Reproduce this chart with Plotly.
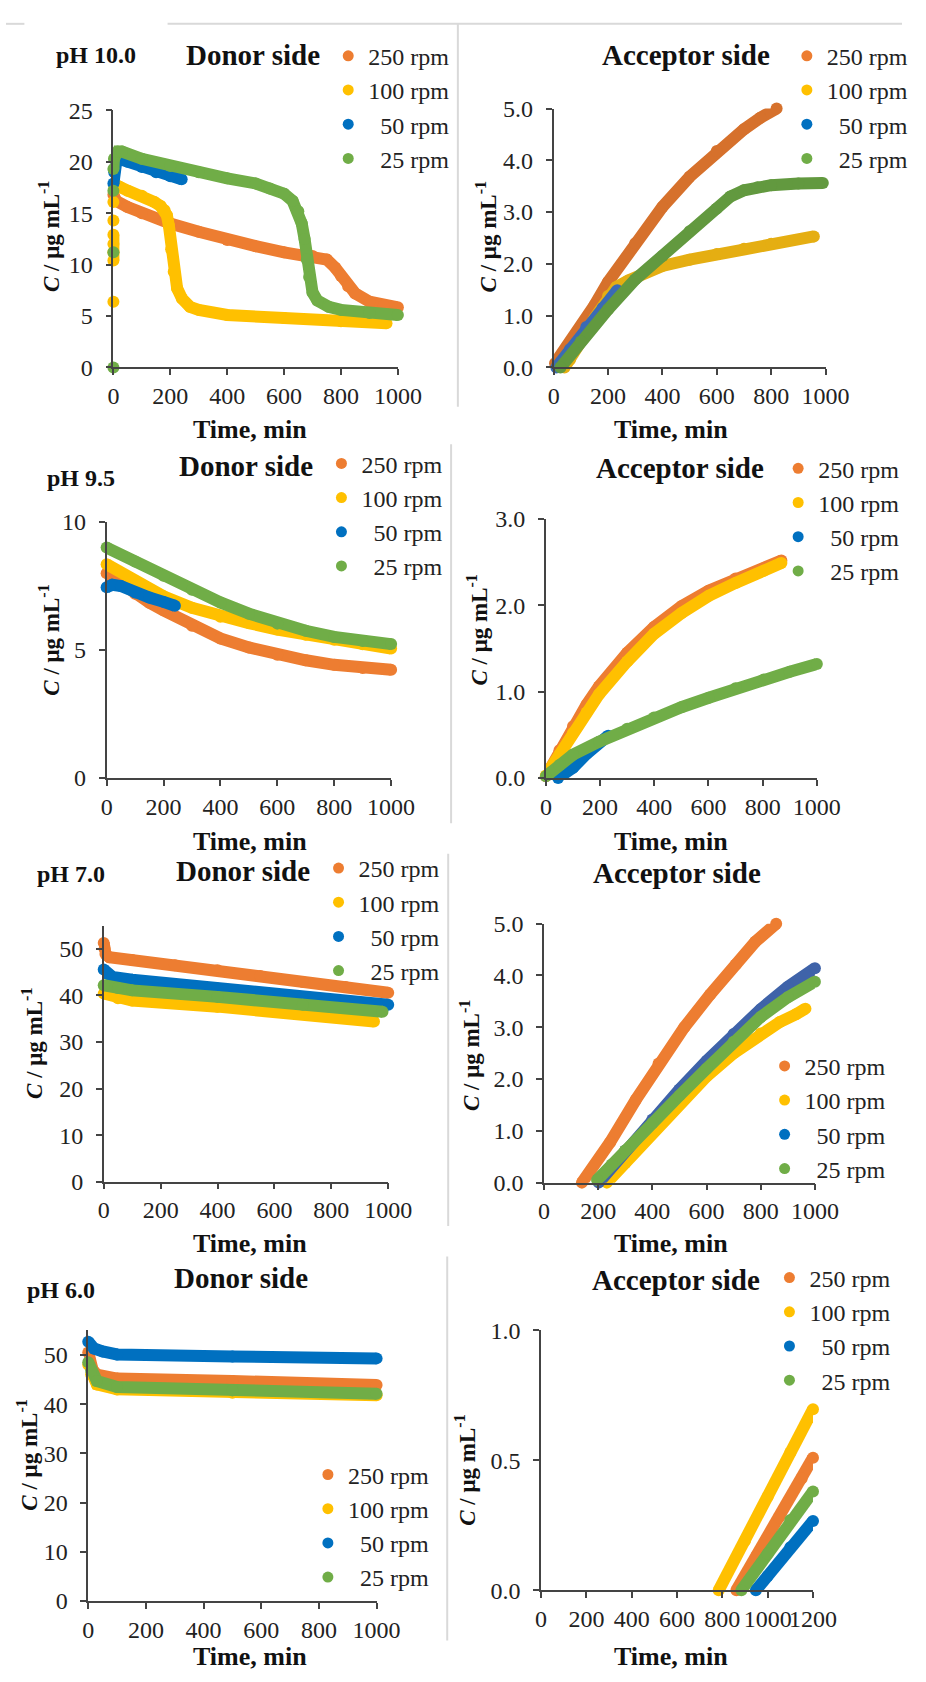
import plotly.graph_objects as go

W, H = 926, 1682
FONT = "Liberation Serif, Times New Roman, Times, serif"
COLORS = ["#ED7D31", "#FFC000", "#0070C0", "#70AD47"]
# slightly different tones seen in some panels of the original composite
PANEL_COLORS = {1: ["#D6712C", "#E5AE12", "#3A6AB5", "#62993F"],
                5: ["#ED7D31", "#FFC000", "#3F63A9", "#70AD47"]}
LEGEND_NAMES = ["250 rpm", "100 rpm", "\u00a0\u00a050 rpm", "\u00a0\u00a025 rpm"]

# ---------------- pH 10.0 donor ----------------
t10d_250 = [0, 10, 50, 100, 200, 300, 400, 500, 600, 700, 750, 780, 800, 825, 850, 900, 950, 1000]
c10d_250 = [16.8, 16.2, 15.6, 15.0, 14.0, 13.2, 12.4, 11.8, 11.2, 10.85, 10.5, 9.7, 8.9, 7.9, 7.2, 6.4, 6.0, 5.85]
t10d_100 = [0, None, 0, 0, 0, 0, None, 0, None, 0, None, 3, 20, 50, 100, 144, 166, 180, 188, 195, 203, 212, 224, 241, 269, 300, 400, 600, 800, 960]
c10d_100 = [6.4, None, 10.4, 11.2, 12.0, 12.9, None, 14.3, None, 16.1, None, 17.4, 17.6, 17.2, 16.7, 16.1, 15.7, 15.3, 14.8, 13.8, 11.5, 9.3, 7.7, 6.7, 5.9, 5.6, 5.1, 4.8, 4.5, 4.3]
t10d_50 = [0, 3, 10, 20, 50, 100, 150, 200, 240]
c10d_50 = [17.9, 19.0, 20.0, 20.3, 20.0, 19.5, 19.0, 18.6, 18.3]
t10d_25 = [0, None, 0, None, 0, None, 0, 2, 15, 30, 100, 200, 300, 400, 500, 550, 600, 630, 650, 662, 672, 680, 688, 700, 717, 757, 800, 900, 1000]
c10d_25 = [0.0, None, 11.2, None, 17.2, None, 19.3, 20.3, 21.0, 21.0, 20.3, 19.6, 19.0, 18.4, 17.9, 17.4, 16.9, 16.2, 15.2, 14.0, 12.5, 10.5, 8.8, 7.3, 6.5, 5.9, 5.6, 5.3, 5.1]

# ---------------- pH 10.0 acceptor ----------------
t10a_250 = [5, 50, 97, 150, 200, 300, 400, 500, 600, 700, 760, 820]
c10a_250 = [0.08, 0.4, 0.76, 1.2, 1.65, 2.4, 3.1, 3.68, 4.18, 4.6, 4.82, 5.0]
t10a_100 = [40, 60, 100, 150, 200, 230, 275, 400, 500, 600, 700, 800, 957]
c10a_100 = [0.0, 0.15, 0.5, 0.95, 1.38, 1.55, 1.68, 1.96, 2.08, 2.19, 2.29, 2.39, 2.53]
t10a_50 = [10, 60, 120, 180, 234]
c10a_50 = [0.0, 0.35, 0.78, 1.15, 1.49]
t10a_25 = [25, 100, 200, 300, 400, 500, 600, 650, 700, 750, 800, 900, 990]
c10a_25 = [0.0, 0.5, 1.12, 1.7, 2.15, 2.63, 3.07, 3.3, 3.42, 3.48, 3.52, 3.55, 3.56]

# ---------------- pH 9.5 donor ----------------
t95d_250 = [0, 50, 100, 150, 200, 300, 400, 500, 600, 700, 800, 900, 1000]
c95d_250 = [8.0, 7.6, 7.2, 6.85, 6.55, 5.95, 5.45, 5.1, 4.81, 4.6, 4.42, 4.3, 4.23]
t95d_100 = [0, 100, 200, 300, 400, 500, 600, 700, 800, 900, 1000]
c95d_100 = [8.35, 7.7, 7.1, 6.65, 6.3, 6.05, 5.8, 5.6, 5.4, 5.22, 5.06]
t95d_50 = [0, 20, 50, 100, 150, 200, 240]
c95d_50 = [7.45, 7.55, 7.5, 7.25, 7.05, 6.88, 6.73]
t95d_25 = [0, 100, 200, 300, 400, 500, 600, 700, 800, 900, 1000]
c95d_25 = [9.0, 8.46, 7.9, 7.35, 6.86, 6.42, 6.03, 5.75, 5.51, 5.35, 5.23]

# ---------------- pH 9.5 acceptor ----------------
t95a_250 = [0, 50, 100, 150, 196, 300, 399, 500, 601, 700, 804, 869]
c95a_250 = [0.02, 0.32, 0.6, 0.85, 1.06, 1.45, 1.75, 1.99, 2.17, 2.31, 2.43, 2.52]
t95a_100 = [0, 50, 100, 150, 196, 300, 399, 500, 601, 700, 804, 869]
c95a_100 = [0.03, 0.27, 0.52, 0.76, 0.97, 1.35, 1.67, 1.91, 2.11, 2.26, 2.40, 2.49]
t95a_50 = [45, 100, 150, 200, 230]
c95a_50 = [0.0, 0.12, 0.28, 0.42, 0.49]
t95a_25 = [0, 50, 100, 196, 300, 399, 500, 601, 700, 804, 900, 1000]
c95a_25 = [0.02, 0.15, 0.27, 0.42, 0.57, 0.70, 0.82, 0.93, 1.04, 1.14, 1.23, 1.32]

# ---------------- pH 7.0 donor ----------------
t70d_250 = [0, 3, 6, 20, 100, 250, 400, 550, 700, 850, 1000]
c70d_250 = [51.3, 50.0, 48.9, 48.2, 47.6, 46.5, 45.4, 44.2, 42.9, 41.8, 40.6]
t70d_100 = [0, 50, 100, 400, 700, 950]
c70d_100 = [40.4, 39.4, 38.9, 37.6, 36.1, 34.4]
t70d_50 = [0, 15, 30, 100, 400, 700, 1000]
c70d_50 = [45.6, 44.6, 44.0, 43.4, 41.5, 39.7, 38.0]
t70d_25 = [0, 50, 100, 400, 700, 980]
c70d_25 = [42.2, 41.6, 41.1, 39.7, 38.0, 36.5]

# ---------------- pH 7.0 acceptor ----------------
t70a_250 = [140, 244, 339, 423, 518, 613, 708, 780, 857]
c70a_250 = [0.0, 0.78, 1.6, 2.3, 3.0, 3.63, 4.21, 4.65, 5.0]
t70a_100 = [232, 300, 400, 500, 600, 700, 800, 870, 930, 965]
c70a_100 = [0.0, 0.38, 0.98, 1.55, 2.05, 2.50, 2.88, 3.1, 3.25, 3.36]
t70a_50 = [202, 300, 400, 500, 600, 700, 800, 900, 1000]
c70a_50 = [0.0, 0.62, 1.22, 1.80, 2.35, 2.87, 3.35, 3.78, 4.14]
t70a_25 = [196, 250, 300, 400, 500, 600, 700, 800, 900, 1000]
c70a_25 = [0.05, 0.35, 0.62, 1.15, 1.68, 2.2, 2.72, 3.2, 3.58, 3.88]

# ---------------- pH 6.0 donor ----------------
t60d_250 = [0, 5, 15, 30, 100, 500, 1000]
c60d_250 = [50.5, 49.0, 47.0, 46.0, 45.2, 44.7, 43.9]
t60d_100 = [0, 10, 30, 100, 500, 1000]
c60d_100 = [48.0, 46.0, 44.0, 43.0, 42.3, 41.8]
t60d_50 = [0, 20, 50, 100, 500, 1000]
c60d_50 = [52.7, 51.3, 50.7, 50.1, 49.7, 49.3]
t60d_25 = [0, 10, 30, 100, 500, 1000]
c60d_25 = [48.5, 46.8, 44.7, 43.5, 42.8, 42.1]

# ---------------- pH 6.0 acceptor ----------------
t60a_250 = [862, 950, 1050, 1150, 1200]
c60a_250 = [0.0, 0.13, 0.28, 0.43, 0.51]
t60a_100 = [784, 900, 1000, 1100, 1200]
c60a_100 = [0.0, 0.19, 0.36, 0.53, 0.696]
t60a_50 = [948, 1000, 1100, 1200]
c60a_50 = [0.0, 0.055, 0.165, 0.266]
t60a_25 = [884, 1000, 1100, 1200]
c60a_25 = [0.0, 0.14, 0.27, 0.38]

PANEL_SERIES = [
    [(t10d_250, c10d_250), (t10d_100, c10d_100), (t10d_50, c10d_50), (t10d_25, c10d_25)],
    [(t10a_250, c10a_250), (t10a_100, c10a_100), (t10a_50, c10a_50), (t10a_25, c10a_25)],
    [(t95d_250, c95d_250), (t95d_100, c95d_100), (t95d_50, c95d_50), (t95d_25, c95d_25)],
    [(t95a_250, c95a_250), (t95a_100, c95a_100), (t95a_50, c95a_50), (t95a_25, c95a_25)],
    [(t70d_250, c70d_250), (t70d_100, c70d_100), (t70d_50, c70d_50), (t70d_25, c70d_25)],
    [(t70a_250, c70a_250), (t70a_100, c70a_100), (t70a_50, c70a_50), (t70a_25, c70a_25)],
    [(t60d_250, c60d_250), (t60d_100, c60d_100), (t60d_50, c60d_50), (t60d_25, c60d_25)],
    [(t60a_250, c60a_250), (t60a_100, c60a_100), (t60a_50, c60a_50), (t60a_25, c60a_25)],
]

# layout of panels in pixels: x-left, x-right, y-top(max of range), y-bottom(0)
PANELS = [
    dict(px=(111, 405), py=(99, 360), xr=[0, 1000], yr=[0, 25], yt=[0, 5, 10, 15, 20, 25], fmt=""),
    dict(px=(566, 847), py=(97, 360), xr=[0, 1000], yr=[0, 5], yt=[0, 1, 2, 3, 4, 5], fmt=".1f"),
    dict(px=(104, 398), py=(517, 777), xr=[0, 1000], yr=[0, 10], yt=[0, 5, 10], fmt=""),
    dict(px=(558, 838), py=(514, 777), xr=[0, 1000], yr=[0, 3], yt=[0, 1, 2, 3], fmt=".1f"),
    dict(px=(101, 395), py=(927, 1187), xr=[0, 1000], yr=[0, 55], yt=[0, 10, 20, 30, 40, 50], fmt=""),
    dict(px=(556, 836), py=(925, 1188), xr=[0, 1000], yr=[0, 5], yt=[0, 1, 2, 3, 4, 5], fmt=".1f"),
    dict(px=(85, 383), py=(1338, 1613), xr=[0, 1000], yr=[0, 55], yt=[0, 10, 20, 30, 40, 50], fmt=""),
    dict(px=(553, 834), py=(1338, 1602), xr=[0, 1200], yr=[0, 1], yt=[0, 0.5, 1.0], fmt=".1f"),
]
# legend first-marker centre (px)
LEGEND_POS = [(353, 39), (827, 39), (346, 453), (818, 458), (343, 864), (804, 1065), (332, 1480), (809, 1280)]
PH_LABELS = [("pH 10.0", 93, 43), ("pH 9.5", 78, 472), ("pH 7.0", 67, 875), ("pH 6.0", 57, 1297)]
SIDE_TITLES = [(255, 43), (703, 43), (248, 460), (697, 462), (245, 871), (693, 873), (243, 1285), (692, 1287)]
XTITLE_POS = [(252, 423), (687, 423), (252, 842), (687, 842), (252, 1250), (687, 1250), (252, 1669), (687, 1669)]
YTITLE_POS = [(45, 227), (497, 227), (45, 637), (487, 627), (28, 1047), (480, 1059), (22, 1465), (475, 1480)]


def fx(p):
    return p / W


def fy(p):
    return 1 - p / H


fig = go.Figure()
layout = dict(width=W, height=H, margin=dict(l=0, r=0, t=0, b=0),
              paper_bgcolor="white", plot_bgcolor="rgba(0,0,0,0)",
              font=dict(family=FONT, color="#222"), showlegend=True)

annotations = []
for i, (pan, series) in enumerate(zip(PANELS, PANEL_SERIES)):
    n = i + 1
    xa = "x" if n == 1 else f"x{n}"
    ya = "y" if n == 1 else f"y{n}"
    lg = "legend" if n == 1 else f"legend{n}"
    cols = PANEL_COLORS.get(i, COLORS)
    for k, (t, c) in enumerate(series):
        fig.add_trace(go.Scatter(x=t, y=c, mode="lines+markers", xaxis=xa, yaxis=ya,
                                 line=dict(color=cols[k], width=12),
                                 marker=dict(color=cols[k], size=12, line=dict(width=0)),
                                 connectgaps=False, cliponaxis=False, showlegend=False,
                                 hoverinfo="skip"))
    for k in range(4):
        fig.add_trace(go.Scatter(x=[None], y=[None], mode="markers", xaxis=xa, yaxis=ya,
                                 marker=dict(color=COLORS[k], size=11),
                                 name=LEGEND_NAMES[k], legend=lg, showlegend=True))
    axis_common = dict(showline=True, linecolor="#444", linewidth=1.5, ticks="outside",
                       ticklen=6, tickwidth=1.5, tickcolor="#444", showgrid=False, zeroline=False,
                       tickfont=dict(family=FONT, size=24, color="#222"), fixedrange=True)
    layout["xaxis" if n == 1 else f"xaxis{n}"] = dict(
        axis_common, domain=[fx(pan["px"][0]), fx(pan["px"][1])], range=pan["xr"],
        tickmode="linear", tick0=0, dtick=200, tickangle=0, anchor=ya)
    layout["yaxis" if n == 1 else f"yaxis{n}"] = dict(
        axis_common, domain=[fy(pan["py"][1]), fy(pan["py"][0])], range=pan["yr"],
        tickmode="array", tickvals=pan["yt"], tickformat=pan["fmt"], ticklabelstandoff=8,
        anchor=xa)
    mx, my = LEGEND_POS[i]
    layout[lg] = dict(x=fx(mx - 20), y=fy(my - 18), xanchor="left", yanchor="top",
                      font=dict(family=FONT, size=24, color="#222"), bgcolor="rgba(0,0,0,0)",
                      borderwidth=0, itemsizing="trace", tracegroupgap=0, traceorder="normal",
                      itemclick=False, itemdoubleclick=False)
    sx, sy = SIDE_TITLES[i]
    annotations.append(dict(text="Donor side" if i % 2 == 0 else "Acceptor side",
                            x=fx(sx), y=fy(sy), xref="paper", yref="paper", showarrow=False,
                            xanchor="center", yanchor="middle",
                            font=dict(family=FONT, size=29, color="#111", weight="bold")))
    tx, ty = XTITLE_POS[i]
    annotations.append(dict(text="Time, min", x=fx(tx), y=fy(ty), xref="paper", yref="paper",
                            showarrow=False, xanchor="center", yanchor="middle",
                            font=dict(family=FONT, size=26, color="#111", weight="bold")))
    yx, yy = YTITLE_POS[i]
    annotations.append(dict(text="<i>C</i> / μg mL<sup>-1</sup>", x=fx(yx), y=fy(yy),
                            xref="paper", yref="paper", showarrow=False, textangle=-90,
                            xanchor="center", yanchor="middle",
                            font=dict(family=FONT, size=23, color="#111", weight="bold")))

for txt, px_, py_ in PH_LABELS:
    annotations.append(dict(text=txt, x=fx(px_), y=fy(py_), xref="paper", yref="paper",
                            showarrow=False, xanchor="center", yanchor="middle",
                            font=dict(family=FONT, size=24, color="#111", weight="bold")))

# faint frame lines of the original composite
GRAY = "#D9D9D9"
frame = [((0, 11), (19, 11)), ((167, 11), (926, 11)), ((467, 11), (467, 400)),
         ((460, 438), (460, 823)), ((457, 854), (457, 1232)), ((456, 1263), (456, 1653))]
shapes = [dict(type="line", xref="paper", yref="paper", x0=fx(a[0]), y0=fy(a[1]),
               x1=fx(b[0]), y1=fy(b[1]), line=dict(color=GRAY, width=2)) for a, b in frame]

layout["annotations"] = annotations
layout["shapes"] = shapes
fig.update_layout(**layout)
fig.write_html("out.html", config={"displayModeBar": False},
               post_script="document.body.style.margin='0px';")
